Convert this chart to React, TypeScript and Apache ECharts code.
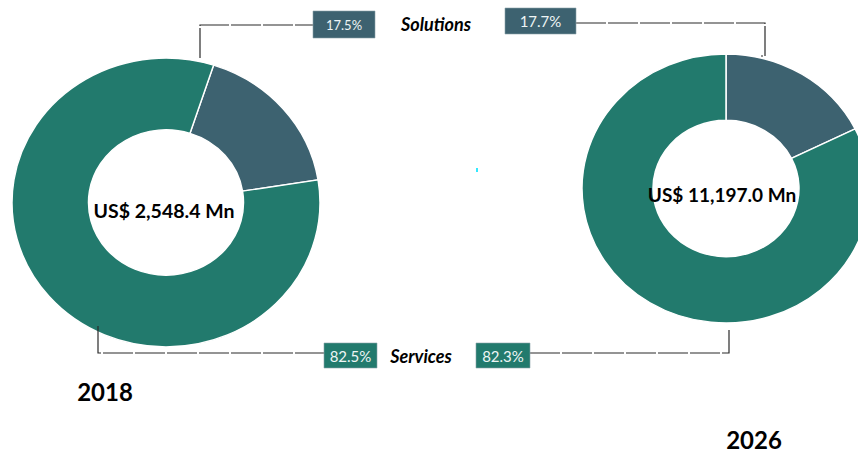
import React, { useEffect, useRef } from "react";
import * as echarts from "echarts";

const segments = ["Solutions", "Services"];
const years = ["2018", "2026"];
const marketSizeMn = [2548.4, 11197.0];
const share2018 = [17.5, 82.5];
const share2026 = [17.7, 82.3];
const segmentColors = ["#3d6270", "#227a6d"];

const FONT = "Lato, 'Open Sans', sans-serif";

function donut(name: string, shares: number[], cx: number, cy: number, r: number, r0: number, startDeg: number, scaleY: number) {
  const total = shares.reduce((a, b) => a + b, 0);
  return {
    type: "custom",
    name,
    coordinateSystem: "none",
    data: shares.map((v) => [v]),
    z: 2,
    renderItem: (params: any, api: any) => {
      const i = params.dataIndex;
      let acc = 0;
      for (let j = 0; j < i; j++) acc += shares[j];
      const v = api.value(0);
      const a0 = ((startDeg - 90 + (acc / total) * 360) * Math.PI) / 180;
      const a1 = a0 + (v / total) * Math.PI * 2;
      return {
        type: "sector",
        originX: cx,
        originY: cy,
        scaleY,
        shape: { cx, cy, r, r0, startAngle: a0, endAngle: a1, clockwise: true },
        style: { fill: segmentColors[i], stroke: "#ffffff", lineWidth: 1.5 },
      };
    },
  };
}

const pct = (v: number) => `${v.toFixed(1)}%`;
const money = (v: number) =>
  `US$ ${v.toLocaleString("en-US", { minimumFractionDigits: 1, maximumFractionDigits: 1 })} Mn`;

const lineStyle = { stroke: "#2a2a2a", lineWidth: 1.2, lineDash: [30, 2], fill: null };

function box(x: number, y: number, w: number, h: number, color: string, text: string, size: number) {
  return [
    { type: "rect", z: 20, shape: { x, y, width: w, height: h }, style: { fill: color, stroke: "#8aa3a8", lineWidth: 0.6 } },
    {
      type: "text",
      z: 21,
      x: x + w / 2,
      y: y + h / 2,
      style: { text, fill: "#eef5f5", fontSize: size, fontFamily: FONT, textAlign: "center", textVerticalAlign: "middle" },
    },
  ];
}

function label(text: string, x: number, y: number, size: number, italic = false) {
  return {
    type: "text", z: 21, x, y,
    style: {
      text, fill: "#000", fontSize: size, fontWeight: "bold", fontStyle: italic ? "italic" : "normal",
      fontFamily: FONT, textAlign: "center", textVerticalAlign: "middle",
    },
  };
}

export default function App() {
  const ref = useRef<HTMLDivElement>(null);
  useEffect(() => {
    if (!ref.current) return;
    const chart = echarts.init(ref.current, undefined, { renderer: "svg" });
    const graphic: any[] = [
      // top connector lines
      { type: "polyline", z: 10, shape: { points: [[200, 58], [200, 25], [313, 25]] }, style: lineStyle },
      { type: "polyline", z: 10, shape: { points: [[576, 23], [765, 23], [765, 56], [761, 56]] }, style: lineStyle },
      // bottom connector lines
      { type: "polyline", z: 10, shape: { points: [[98, 326], [98, 353], [324, 353]] }, style: lineStyle },
      { type: "polyline", z: 10, shape: { points: [[530, 353], [729, 353], [729, 328]] }, style: lineStyle },
      ...box(313, 11, 62, 27, segmentColors[0], pct(share2018[0]), 13),
      ...box(505, 8, 71, 26, segmentColors[0], pct(share2026[0]), 15),
      ...box(324, 343, 53, 25, segmentColors[1], pct(share2018[1]), 15),
      ...box(476, 343, 54, 25, segmentColors[1], pct(share2026[1]), 15),
      label(segments[0], 436, 24, 18, true),
      label(segments[1], 421, 356, 18, true),
      label(money(marketSizeMn[0]), 164, 210, 19.5),
      label(money(marketSizeMn[1]), 722, 194, 19),
      label(years[0], 105, 391, 24),
      label(years[1], 754, 439, 24),
      { type: "rect", z: 21, shape: { x: 476, y: 168, width: 2, height: 4 }, style: { fill: "#33e8ff" } },
    ];
    chart.setOption({
      animation: false,
      backgroundColor: "#ffffff",
      series: [
        donut(years[0], share2018, 166, 202.5, 154, 77.5, 18, 0.938),
        donut(years[1], share2026, 726, 188.5, 144, 73, 0, 0.934),
      ],
      graphic,
    });
    return () => chart.dispose();
  }, []);
  return <div ref={ref} style={{ position: "absolute", left: 0, top: 0, width: 858, height: 452 }} />;
}
